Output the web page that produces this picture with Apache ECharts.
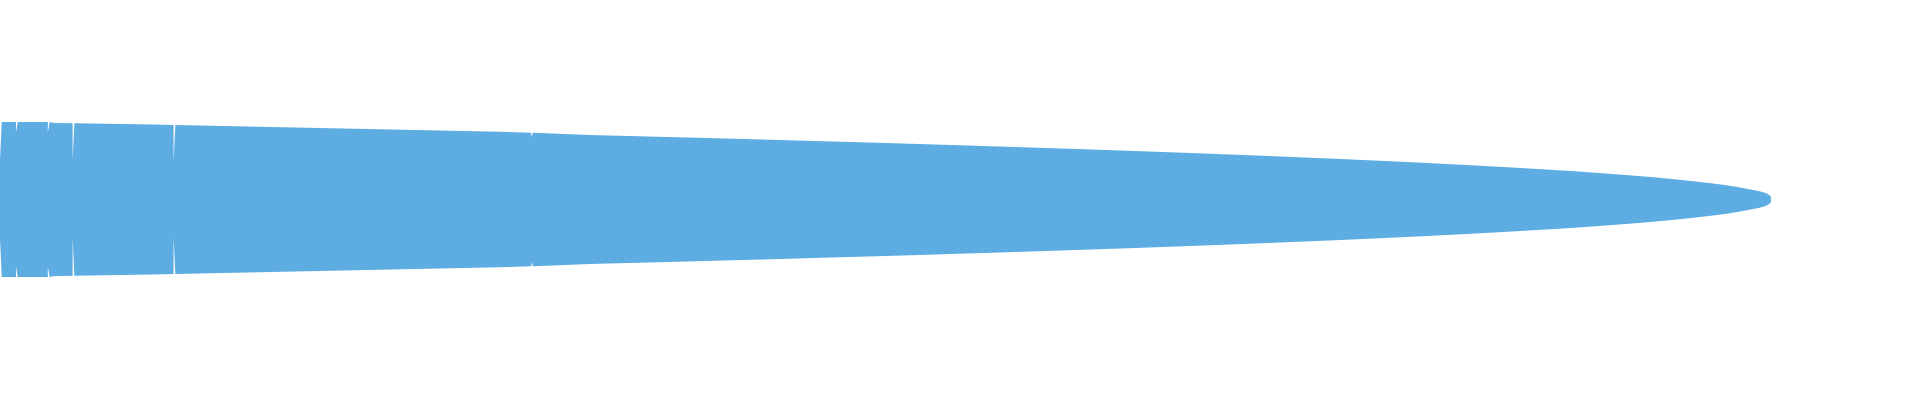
<!DOCTYPE html>
<html>
<head>
<meta charset="utf-8">
<style>
  html, body { margin: 0; padding: 0; background: #ffffff; }
  #chart { width: 1920px; height: 400px; }
</style>
<script src="https://cdn.jsdelivr.net/npm/echarts@6/dist/echarts.min.js"></script>
</head>
<body>
<div id="chart"></div>
<script>
// Rank positions (0..1000) along the horizontal axis
const ranks = [
  0, 1, 1, 9, 9, 10, 10, 27, 27, 28, 28, 31, 41, 41, 42, 42, 59, 86, 98, 98, 99, 99,
  282, 300, 300, 301, 301, 305, 333, 377, 420, 460, 500, 537, 573, 608, 641, 672,
  702, 730, 757, 782, 806, 828, 849, 868, 887, 903, 918, 932, 944, 955, 965, 974,
  981, 987, 993, 997, 999, 1000, 1000
];
// Half-width value at each rank (the band is drawn symmetrically about the centre line)
const values = [
  51, 51, 100, 100, 86, 86, 100, 100, 86, 86, 100, 98.7, 98.4, 50, 50, 98.4, 97.8, 96.8, 96.1, 48.4, 48.4, 96.1,
  87.5, 86.2, 80.5, 80.5, 86.1, 85.8, 83.2, 80.6, 78.1, 75.5, 72.9, 70.3, 67.7, 65.2, 62.6, 60.0,
  57.4, 54.8, 52.3, 49.7, 47.1, 44.5, 41.9, 39.4, 36.8, 34.2, 31.6, 29.0, 26.5, 23.9, 21.3, 18.7,
  16.1, 13.5, 11.0, 8.4, 5.8, 3.2, 0
];

const upper = ranks.map((r, i) => [r, values[i]]);
const lower = ranks.map((r, i) => [r, -values[i]]);

const color = '#5dade2';
const chart = echarts.init(document.getElementById('chart'));
function half(name, data, origin) {
  return {
    name: name,
    type: 'line',
    data: data,
    showSymbol: false,
    symbol: 'none',
    silent: true,
    lineStyle: { width: 0, opacity: 0 },
    itemStyle: { color: color },
    areaStyle: { color: color, opacity: 1, origin: origin }
  };
}
chart.setOption({
  animation: false,
  grid: { left: 0, right: 149, top: 122, bottom: 123 },
  xAxis: { type: 'value', min: 0, max: 1000, show: false },
  yAxis: { type: 'value', min: -100, max: 100, show: false },
  series: [
    half('upper', upper, -1),
    half('lower', lower, 1)
  ]
});
</script>
</body>
</html>
